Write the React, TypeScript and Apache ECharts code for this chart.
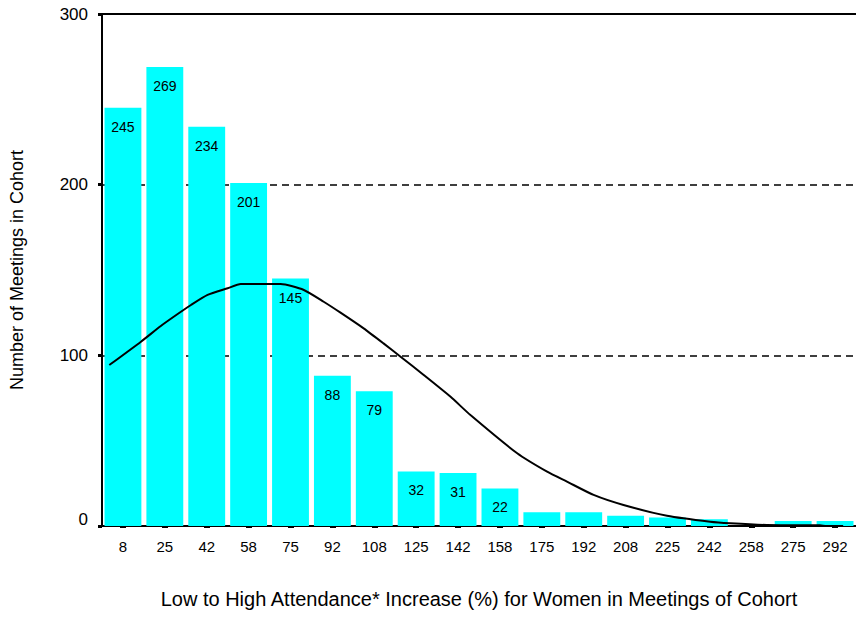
import React, { useEffect, useRef } from "react";
import * as echarts from "echarts";

const categories = ["8", "25", "42", "58", "75", "92", "108", "125", "142", "158", "175", "192", "208", "225", "242", "258", "275", "292"];
const meetingCounts = [245, 269, 234, 201, 145, 88, 79, 32, 31, 22, 8, 8, 6, 5, 4, 0, 3, 3];

// fitted curve, x in % increase (0-300), y in meetings
const curveX = [2.9, 15.5, 23.4, 30.1, 35.4, 42, 50, 55.2, 71.1, 80.3, 88.2, 94.9, 104.1, 112, 118.8, 128, 138.7, 146.6, 165.2, 177.1, 185, 195.6, 207.5, 224.8, 242, 250, 264.5, 285.6, 288.3, 294.9];
const curveY = [94.3, 108, 117.2, 124.2, 129.5, 135.4, 139.3, 141.8, 141.8, 138.3, 131.4, 125, 115.8, 107, 99.2, 88.5, 75.7, 65, 42.6, 31.8, 26, 18.2, 12.3, 6, 2.5, 1.6, 0.6, 0.4, 0, 0];

const xTitle = "Low to High Attendance* Increase (%) for Women in Meetings of Cohort";
const yTitle = "Number of Meetings in Cohort";

const FONT = "'Liberation Sans', Arial, Helvetica, sans-serif";

export default function App() {
  const ref = useRef<HTMLDivElement>(null);
  useEffect(() => {
    if (!ref.current) return;
    const chart = echarts.init(ref.current, null, { renderer: "svg" });
    const curve = curveX.map((x, i) => [x, curveY[i]]);
    chart.setOption({
      animation: false,
      backgroundColor: "#fff",
      textStyle: { fontFamily: FONT, color: "#000" },
      grid: { left: 101, right: 0, top: 14, bottom: 93, containLabel: false },
      xAxis: [
        {
          type: "category",
          data: categories,
          position: "bottom",
          offset: 4,
          axisLine: { show: false },
          axisTick: { show: true, alignWithLabel: true, length: 2, interval: 0, lineStyle: { color: "#000", width: 6 } },
          axisLabel: { color: "#000", fontSize: 15, margin: 9, interval: 0, fontFamily: FONT },
          splitLine: { show: false },
          name: xTitle,
          nameLocation: "middle",
          nameGap: 59,
          nameTextStyle: { color: "#000", fontSize: 20, fontFamily: FONT },
        },
        {
          type: "value",
          min: 0,
          max: 300,
          position: "bottom",
          axisLine: { show: true, onZero: false, lineStyle: { color: "#000", width: 2 } },
          axisTick: { show: false },
          axisLabel: { show: false },
          splitLine: { show: false },
        },
        {
          type: "value",
          min: 0,
          max: 300,
          position: "top",
          axisLine: { show: true, onZero: false, lineStyle: { color: "#000", width: 2 } },
          axisTick: { show: false },
          axisLabel: { show: false },
          splitLine: { show: false },
        },
      ],
      yAxis: {
        type: "value",
        min: 0,
        max: 300,
        interval: 100,
        axisLine: { show: true, lineStyle: { color: "#000", width: 2 } },
        axisTick: { show: true, length: 4, lineStyle: { color: "#000", width: 3 } },
        axisLabel: {
          color: "#000",
          fontSize: 17,
          margin: 14,
          fontFamily: FONT,
          formatter: (v: number) => (v === 0 ? "{z|0}" : String(v)),
          rich: { z: { fontSize: 17, fontFamily: FONT, color: "#000", padding: [0, 0, 14, 0] } },
        },
        splitLine: { show: true, lineStyle: { color: "#000", type: [7, 5], width: 1.5 } },
        name: yTitle,
        nameLocation: "middle",
        nameGap: 76,
        nameTextStyle: { color: "#000", fontSize: 18, fontFamily: FONT },
      },
      series: [
        {
          type: "bar",
          xAxisIndex: 0,
          yAxisIndex: 0,
          data: meetingCounts,
          barCategoryGap: "12%",
          itemStyle: { color: "#00FFFF" },
          label: {
            show: true,
            position: "insideTop",
            distance: 12,
            color: "#000",
            fontSize: 14,
            fontFamily: FONT,
            formatter: (p: any) => (p.value >= 20 ? String(p.value) : ""),
          },
          z: 2,
        },
        {
          type: "line",
          xAxisIndex: 1,
          yAxisIndex: 0,
          data: curve,
          showSymbol: false,
          smooth: 0.2,
          lineStyle: { color: "#000", width: 2 },
          z: 3,
        },
      ],
    });
    return () => chart.dispose();
  }, []);
  return <div ref={ref} style={{ position: "absolute", left: 0, top: 0, width: 856, height: 619 }} />;
}
